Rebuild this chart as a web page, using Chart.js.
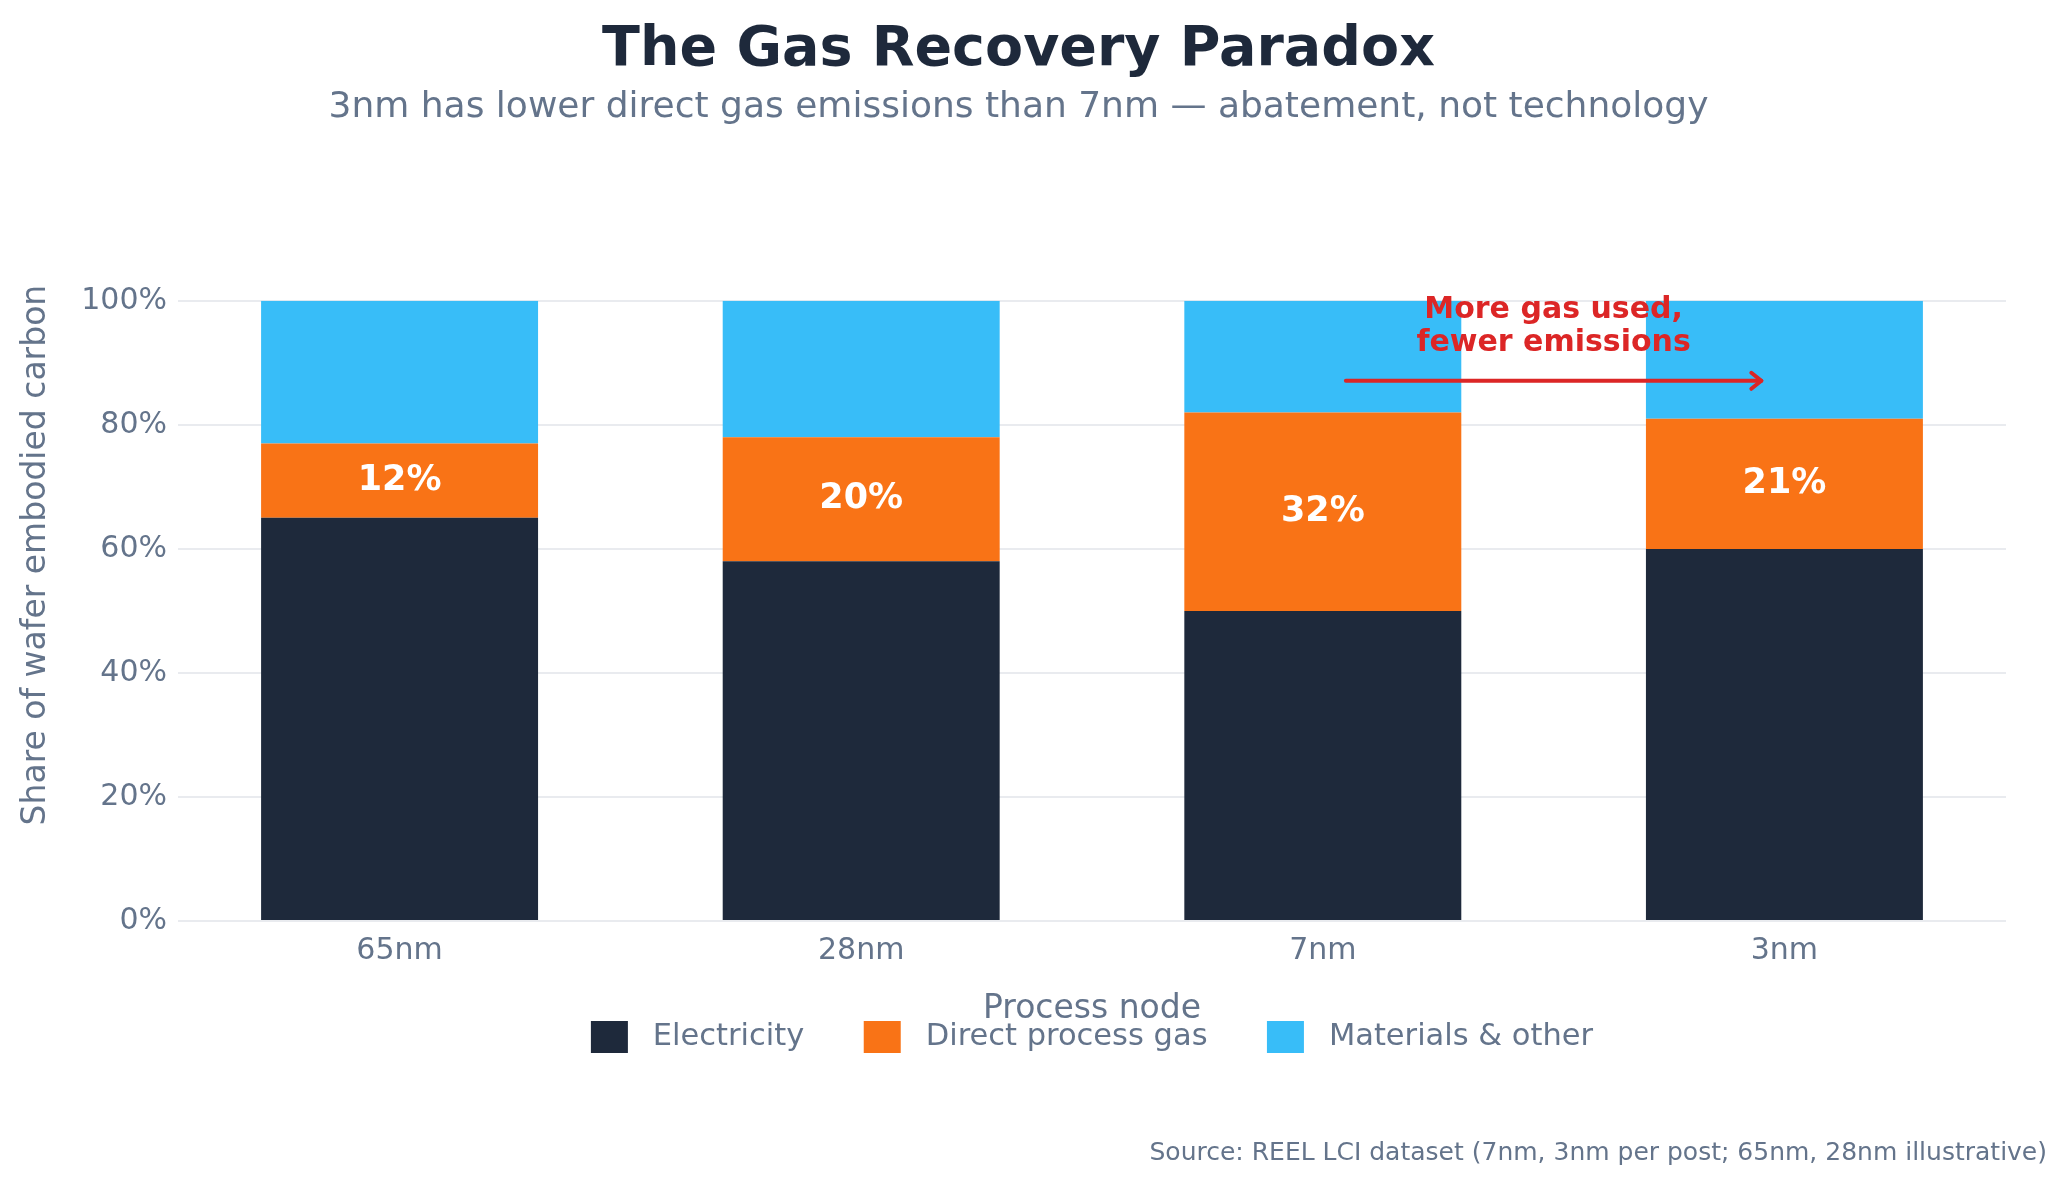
<!DOCTYPE html>
<html>
<head>
<meta charset="utf-8">
<script src="https://cdn.jsdelivr.net/npm/chart.js@4.4.0/dist/chart.umd.min.js"></script>
<style>
  html, body { margin: 0; padding: 0; background: #ffffff; }
  #wrap { width: 2067px; height: 1186px; position: relative; }
</style>
</head>
<body>
<div id="wrap"><canvas id="gasChart"></canvas></div>
<script>
// data
const nodes = ['65nm', '28nm', '7nm', '3nm'];
const electricity = [65, 58, 50, 60];
const processGas = [12, 20, 32, 21];
const materials = [23, 22, 18, 19];
const yTicks = [0, 20, 40, 60, 80, 100];

const seriesNames = ['Electricity', 'Direct process gas', 'Materials & other'];
const seriesColors = ['#1e293b', '#f97316', '#38bdf8'];

const noteLines = ['More gas used,', 'fewer emissions'];
const noteLineValues = [98.5, 93.2];   // y position of note lines, in % units
const arrowValue = 87.1;                // arrow height, in % units
const arrowFrom = 2.05;                 // node index (7nm)
const arrowTo = 2.95;                   // node index (3nm)

const xTitle = 'Process node';
const yTitle = 'Share of wafer embodied carbon';
const yTitleValue = 59;                 // where the y title is centred, in % units
const sourceText = 'Source: REEL LCI dataset (7nm, 3nm per post; 65nm, 28nm illustrative)';

const FONT = '"DejaVu Sans", "Liberation Sans", sans-serif';
const textGray = '#64748b';
const noteRed = '#dc2626';

// white % labels inside the gas segment
const gasLabelPlugin = {
    id: 'gasLabels',
    afterDatasetsDraw(chart) {
        const ctx = chart.ctx;
        const meta = chart.getDatasetMeta(1);
        ctx.save();
        ctx.font = `bold 35px ${FONT}`;
        ctx.fillStyle = '#ffffff';
        ctx.textAlign = 'center';
        ctx.textBaseline = 'middle';
        meta.data.forEach((bar, i) => {
            const mid = (bar.y + bar.base) / 2;
            ctx.fillText(processGas[i] + '%', bar.x, mid);
        });
        ctx.restore();
    }
};

// arrow + note between 7nm and 3nm, axis titles, source line
const notePlugin = {
    id: 'note',
    afterDraw(chart) {
        const ctx = chart.ctx;
        const x = chart.scales.x;
        const y = chart.scales.y;
        const area = chart.chartArea;
        const x1 = x.getPixelForValue(arrowFrom);
        const x2 = x.getPixelForValue(arrowTo);
        const ay = y.getPixelForValue(arrowValue);

        ctx.save();
        ctx.strokeStyle = noteRed;
        ctx.lineWidth = 4;
        ctx.lineCap = 'round';
        ctx.lineJoin = 'round';
        ctx.beginPath();
        ctx.moveTo(x1, ay);
        ctx.lineTo(x2, ay);
        ctx.stroke();
        ctx.beginPath();
        ctx.moveTo(x2 - 10, ay - 8);
        ctx.lineTo(x2, ay);
        ctx.lineTo(x2 - 10, ay + 8);
        ctx.stroke();

        ctx.fillStyle = noteRed;
        ctx.font = `bold 30px ${FONT}`;
        ctx.textAlign = 'center';
        ctx.textBaseline = 'middle';
        const cx = (x1 + x2) / 2;
        noteLines.forEach((line, i) => {
            ctx.fillText(line, cx, y.getPixelForValue(noteLineValues[i]));
        });

        ctx.fillStyle = textGray;
        ctx.font = `33px ${FONT}`;
        ctx.fillText(xTitle, (area.left + area.right) / 2, area.bottom + 88);

        // y axis title (sits a bit above the middle of the axis)
        ctx.save();
        ctx.translate(36, y.getPixelForValue(yTitleValue));
        ctx.rotate(-Math.PI / 2);
        ctx.fillText(yTitle, 0, 0);
        ctx.restore();

        ctx.font = `25px ${FONT}`;
        ctx.textAlign = 'right';
        ctx.fillText(sourceText, chart.width - 20, 1153);
        ctx.restore();
    }
};

const ctx = document.getElementById('gasChart').getContext('2d');
new Chart(ctx, {
    type: 'bar',
    data: {
        datasets: [electricity, processGas, materials].map((values, i) => ({
            label: seriesNames[i],
            data: values.map((v, j) => ({ x: j, y: v })),
            backgroundColor: seriesColors[i],
            borderWidth: 0,
            barPercentage: 0.6,
            categoryPercentage: 1
        }))
    },
    options: {
        responsive: true,
        maintainAspectRatio: false,
        animation: false,
        devicePixelRatio: 1,
        layout: {
            padding: { left: 31, right: 61, top: 0, bottom: 123 }
        },
        scales: {
            x: {
                type: 'linear',
                stacked: true,
                offset: false,
                min: -0.48,
                max: nodes.length - 0.52,
                afterBuildTicks: scale => {
                    scale.ticks = nodes.map((n, i) => ({ value: i }));
                },
                grid: { display: false, drawTicks: false },
                border: { display: false },
                ticks: {
                    color: textGray,
                    font: { family: FONT, size: 30 },
                    padding: 12,
                    callback: v => nodes[v]
                }
            },
            y: {
                stacked: true,
                min: yTicks[0],
                max: yTicks[yTicks.length - 1],
                afterBuildTicks: scale => {
                    scale.ticks = yTicks.map(v => ({ value: v }));
                },
                afterFit: scale => {
                    scale.width = 147;
                },
                grid: { color: '#e9ebef', lineWidth: 2, drawTicks: false },
                border: { display: false },
                ticks: {
                    color: textGray,
                    font: { family: FONT, size: 30 },
                    padding: 11,
                    callback: v => v + '%'
                }
            }
        },
        plugins: {
            title: {
                display: true,
                text: 'The Gas Recovery Paradox',
                color: '#1e293b',
                font: { family: FONT, size: 55.5, weight: 'bold' },
                padding: { top: 17, bottom: 2 }
            },
            subtitle: {
                display: true,
                text: '3nm has lower direct gas emissions than 7nm \u2014 abatement, not technology',
                color: textGray,
                font: { family: FONT, size: 36 },
                padding: { top: 0, bottom: 172 }
            },
            legend: {
                position: 'bottom',
                fullSize: false,
                labels: {
                    color: textGray,
                    font: { family: FONT, size: 30.5 },
                    boxWidth: 37,
                    boxHeight: 32,
                    padding: 40,
                    // spaces widen the gap after each swatch and between items
                    generateLabels: chart =>
                        Chart.defaults.plugins.legend.labels.generateLabels(chart)
                            .map((item, i, all) => ({
                                ...item,
                                text: ' ' + item.text + (i < all.length - 1 ? '  ' : '')
                            }))
                }
            },
            tooltip: { enabled: false }
        }
    },
    plugins: [gasLabelPlugin, notePlugin]
});
</script>
</body>
</html>
